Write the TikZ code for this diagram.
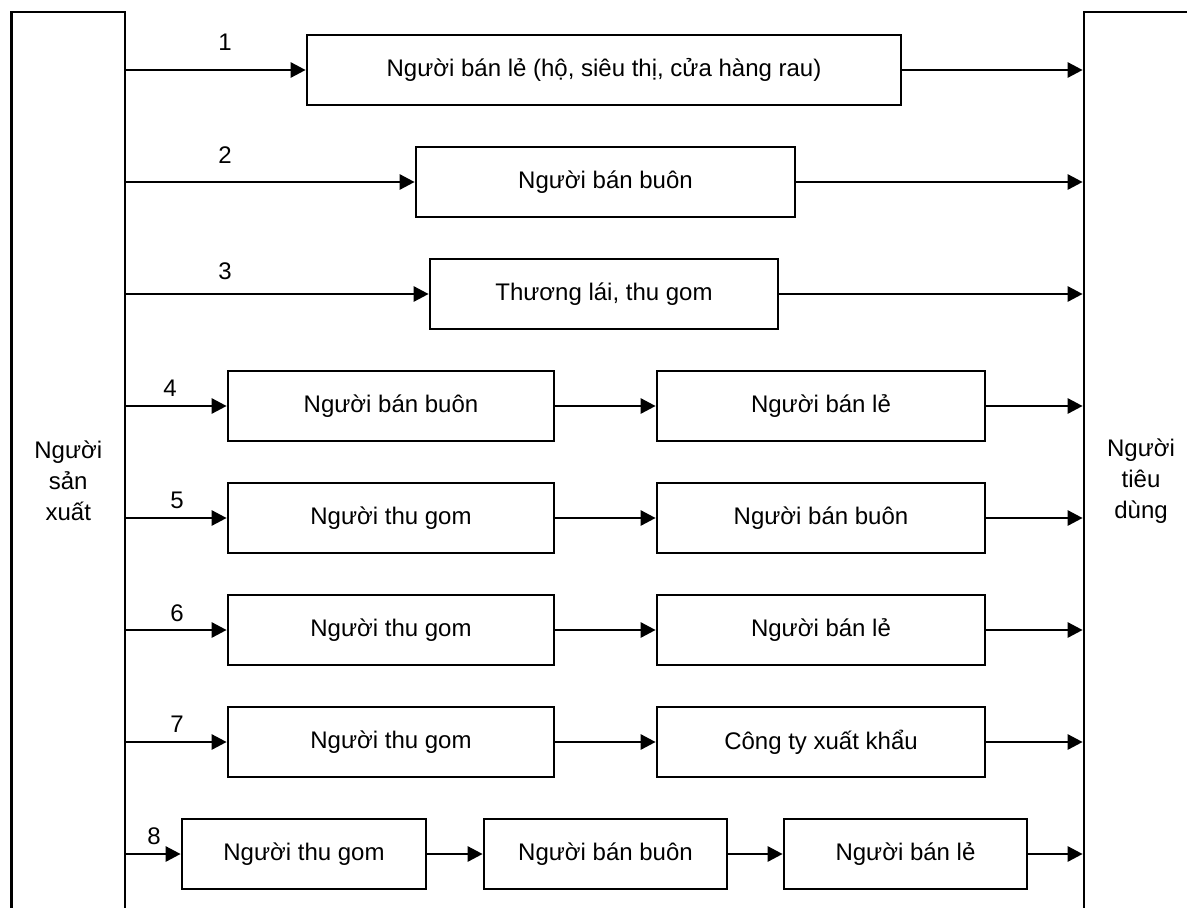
\documentclass[tikz,border=0pt]{standalone}
\usepackage{fontspec}
\setmainfont{Liberation Sans}
\usetikzlibrary{arrows.meta,calc}
\begin{document}
\begin{tikzpicture}[x=1pt,y=-1pt,
  every node/.style={font=\fontsize{24}{31}\selectfont},
  bx/.style={draw,line width=2.7pt,minimum height=70pt,inner sep=0pt},
  side/.style={draw,line width=2.7pt,minimum height=938pt,inner sep=0pt,align=center},
  arr/.style={line width=2.7pt,-{Triangle[length=15pt,width=15pt]}},
  lbl/.style={inner sep=0pt}]
\useasboundingbox (0,0) rectangle (1187,908);
% side boxes
\node[side,minimum width=113.5pt] (prod) at (68.25,481) {Người\\sản\\xuất};
\node[side,minimum width=114pt] (cons) at (1141,481) {Người\\tiêu\\dùng};
% row 1
\node[bx,minimum width=594pt] (r1) at (604,70) {Người bán lẻ (hộ, siêu thị, cửa hàng rau)};
% row 2
\node[bx,minimum width=379pt] (r2) at (605.5,182) {Người bán buôn};
% row 3
\node[bx,minimum width=348pt] (r3) at (604,294) {Thương lái, thu gom};
% rows 4-7
\node[bx,minimum width=326pt] (r4a) at (391,406) {Người bán buôn};
\node[bx,minimum width=328pt] (r4b) at (821,406) {Người bán lẻ};
\node[bx,minimum width=326pt] (r5a) at (391,518) {Người thu gom};
\node[bx,minimum width=328pt] (r5b) at (821,518) {Người bán buôn};
\node[bx,minimum width=326pt] (r6a) at (391,630) {Người thu gom};
\node[bx,minimum width=328pt] (r6b) at (821,630) {Người bán lẻ};
\node[bx,minimum width=326pt] (r7a) at (391,742) {Người thu gom};
\node[bx,minimum width=328pt] (r7b) at (821,742) {Công ty xuất khẩu};
% row 8
\node[bx,minimum width=244pt] (r8a) at (304,854) {Người thu gom};
\node[bx,minimum width=243pt] (r8b) at (605.5,854) {Người bán buôn};
\node[bx,minimum width=243pt] (r8c) at (905.5,854) {Người bán lẻ};
% number labels
\node[lbl] (n1) at (225,42) {1};
\node[lbl] (n2) at (225,155) {2};
\node[lbl] (n3) at (225,271) {3};
\node[lbl] (n4) at (170,388) {4};
\node[lbl] (n5) at (177,500) {5};
\node[lbl] (n6) at (177,613) {6};
\node[lbl] (n7) at (177,724) {7};
\node[lbl] (n8) at (154,836) {8};
% connectors from producer
\foreach \b in {r1,r2,r3,r4a,r5a,r6a,r7a,r8a}
  \draw[arr] (prod.east |- \b.west) -- (\b.west);
% middle connectors
\draw[arr] (r4a) -- (r4b);
\draw[arr] (r5a) -- (r5b);
\draw[arr] (r6a) -- (r6b);
\draw[arr] (r7a) -- (r7b);
\draw[arr] (r8a) -- (r8b);
\draw[arr] (r8b) -- (r8c);
% connectors to consumer
\foreach \b in {r1,r2,r3,r4b,r5b,r6b,r7b,r8c}
  \draw[arr] (\b.east) -- (cons.west |- \b.east);
\end{tikzpicture}
\end{document}
